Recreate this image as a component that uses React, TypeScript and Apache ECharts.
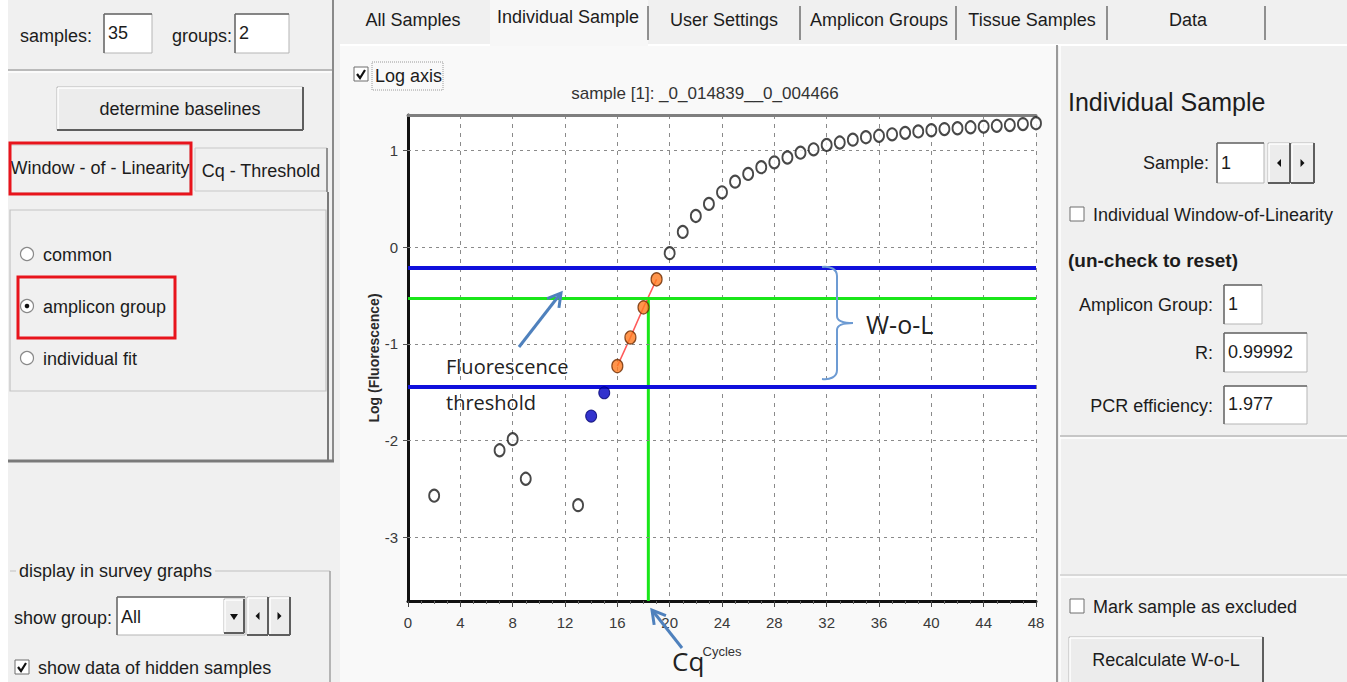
import React, { useEffect, useRef } from "react";
import * as echarts from "echarts";

// ---------- data ----------
const cyclesOpen = [2, 7, 8, 9, 13, 20, 21, 22, 23, 24, 25, 26, 27, 28, 29, 30, 31, 32, 33, 34, 35, 36, 37, 38, 39, 40, 41, 42, 43, 44, 45, 46, 47, 48];
const logOpen = [-2.57, -2.1, -1.985, -2.395, -2.668, -0.06, 0.16, 0.325, 0.45, 0.57, 0.68, 0.76, 0.83, 0.88, 0.93, 0.98, 1.015, 1.06, 1.085, 1.115, 1.14, 1.155, 1.17, 1.185, 1.2, 1.212, 1.224, 1.233, 1.243, 1.25, 1.258, 1.266, 1.276, 1.285];
const cyclesBaseline = [14, 15];
const logBaseline = [-1.746, -1.505];
const cyclesWol = [16, 17, 18, 19];
const logWol = [-1.229, -0.932, -0.621, -0.331];
const yTickValues = [-3, -2, -1, 0, 1];
const wolUpper = -0.207;
const wolLower = -1.443;
const thresholdLog = -0.528;
const cqCycle = 18.37;
const yMin = -3.66;
const yMax = 1.37;
const xMin = 0;
const xMax = 48;
const xStep = 4;
const tabLabels = ["All Samples", "Individual Sample", "User Settings", "Amplicon Groups", "Tissue Samples", "Data"];
const tabCenters = [413, 568, 724, 879, 1032, 1188];

const zip = (a: number[], b: number[]) => a.map((v, i) => [v, b[i]]);

const FONT = '"Liberation Sans", Arial, sans-serif';
const ANNO = '"Open Sans", "Noto Sans", sans-serif';

const bracePath =
  "M0,1 C8,0 15,3 15,10 L15,50 C15,55 20,57 31,57 C20,57 15,59 15,64 L15,104 C15,111 8,114 0,113";
echarts.graphic.registerShape("brace", echarts.graphic.extendPath(bracePath, {}) as any);

// ---------- graphic helpers ----------
function txt(x: number, y: number, text: string, size = 18, o: any = {}) {
  return {
    type: "text",
    x,
    y,
    z: o.z ?? 10,
    style: {
      text,
      fill: o.fill ?? "#1c1c1c",
      fontSize: size,
      fontFamily: o.family ?? FONT,
      fontWeight: o.weight ?? "normal",
      textAlign: o.align ?? "left",
      verticalAlign: "middle",
      backgroundColor: o.bg,
      padding: o.bg ? [0, 3] : 0,
    },
  };
}
function rect(x: number, y: number, w: number, h: number, style: any, z = 10) {
  return { type: "rect", z, shape: { x, y, width: w, height: h }, style };
}
function ln(x1: number, y1: number, x2: number, y2: number, stroke: string, lineWidth = 1, z = 10) {
  return { type: "line", z, shape: { x1, y1, x2, y2 }, style: { stroke, lineWidth } };
}
function sunken(x: number, y: number, w: number, h: number) {
  return [
    rect(x, y, w, h, { fill: "#ffffff", stroke: "#b5b5b5", lineWidth: 1 }),
    ln(x, y, x + w, y, "#6a6a6a", 1.5, 11),
    ln(x, y, x, y + h, "#6a6a6a", 1.5, 11),
  ];
}
function raised(x: number, y: number, w: number, h: number) {
  return [
    rect(x, y, w, h, { fill: "#ececec", stroke: "#b9b9b9", lineWidth: 1 }),
    ln(x + 1, y + 1, x + w - 1, y + 1, "#ffffff", 1.5, 11),
    ln(x + 1, y + 1, x + 1, y + h - 1, "#ffffff", 1.5, 11),
    ln(x, y + h, x + w, y + h, "#5e5e5e", 2, 11),
    ln(x + w, y, x + w, y + h, "#5e5e5e", 2, 11),
  ];
}
function checkbox(x: number, y: number, checked: boolean) {
  const els: any[] = [rect(x, y, 14, 14, { fill: "#ffffff", stroke: "#6e6e6e", lineWidth: 1 })];
  if (checked)
    els.push({
      type: "polyline",
      z: 11,
      shape: { points: [[x + 3, y + 7], [x + 6, y + 11], [x + 11, y + 3]] },
      style: { stroke: "#111", lineWidth: 2.2, fill: "none" },
    });
  return els;
}
function radio(cx: number, cy: number, sel: boolean) {
  const els: any[] = [{ type: "circle", z: 10, shape: { cx, cy, r: 6.5 }, style: { fill: "#fff", stroke: "#8a8a8a", lineWidth: 1.2 } }];
  if (sel) els.push({ type: "circle", z: 11, shape: { cx, cy, r: 2.3 }, style: { fill: "#111" } });
  return els;
}
function arrowBtn(x: number, y: number, w: number, h: number, dir: number) {
  const cx = x + w / 2;
  const cy = y + h / 2;
  return [
    ...raised(x, y, w, h),
    {
      type: "polygon",
      z: 12,
      shape: { points: dir < 0 ? [[cx + 2, cy - 4], [cx + 2, cy + 4], [cx - 2, cy]] : [[cx - 2, cy - 4], [cx - 2, cy + 4], [cx + 2, cy]] },
      style: { fill: "#111" },
    },
  ];
}
function arrow(x1: number, y1: number, x2: number, y2: number, color: string) {
  const dx = x2 - x1;
  const dy = y2 - y1;
  const L = Math.sqrt(dx * dx + dy * dy);
  const ux = dx / L;
  const uy = dy / L;
  const hl = 15;
  const a = Math.PI / 6;
  const p1 = [x2 - hl * (ux * Math.cos(a) - uy * Math.sin(a)), y2 - hl * (uy * Math.cos(a) + ux * Math.sin(a))];
  const p2 = [x2 - hl * (ux * Math.cos(a) + uy * Math.sin(a)), y2 - hl * (uy * Math.cos(a) - ux * Math.sin(a))];
  return [
    ln(x1, y1, x2 - ux * 1, y2 - uy * 1, color, 3, 100),
    { type: "polyline", z: 100, shape: { points: [p1, [x2, y2], p2] }, style: { stroke: color, lineWidth: 3, fill: "none", lineJoin: "miter" } },
  ];
}

function buildGraphics() {
  const g: any[] = [];
  // backgrounds
  g.push(rect(0, 0, 8, 682, { fill: "#ffffff" }, -10));
  g.push(rect(340, 45, 717, 637, { fill: "#f9f9f9" }, -10));
  g.push(rect(490, 0, 158, 46, { fill: "#f7f7f7" }, -10));
  // tab bar
  g.push(ln(340, 45, 490, 45, "#ffffff", 2, 5));
  g.push(ln(648, 45, 1347, 45, "#ffffff", 2, 5));
  [648, 800, 956, 1107, 1265].forEach((x) => g.push(ln(x, 6, x, 40, "#6f6f6f", 1.5)));
  tabLabels.forEach((t, i) => g.push(txt(tabCenters[i], i === 1 ? 17 : 20, t, 18, { align: "center" })));

  // ---------- left panel ----------
  g.push(txt(20, 36, "samples:"));
  g.push(...sunken(104, 14, 48, 39));
  g.push(txt(108, 33, "35"));
  g.push(txt(172, 36, "groups:"));
  g.push(...sunken(235, 14, 54, 39));
  g.push(txt(239, 33, "2"));
  g.push(ln(8, 70, 333, 70, "#a8a8a8", 1.5));
  g.push(ln(8, 72, 333, 72, "#ffffff", 1.5));
  g.push(...raised(57, 87, 246, 43));
  g.push(txt(180, 109, "determine baselines", 18, { align: "center" }));
  // tabs
  g.push(rect(10, 145, 180, 48, { fill: "#f0f0f0", stroke: "#c8c8c8", lineWidth: 1 }));
  g.push(txt(100, 168, "Window - of - Linearity", 18, { align: "center" }));
  g.push(rect(10, 143, 181, 51, { fill: "none", stroke: "#e8141c", lineWidth: 3 }, 20));
  g.push(rect(195, 148, 132, 43, { fill: "#f0f0f0", stroke: "#c8c8c8", lineWidth: 1 }));
  g.push(ln(327, 148, 327, 192, "#7a7a7a", 1.5));
  g.push(txt(261, 171, "Cq - Threshold", 18, { align: "center" }));
  g.push(ln(328, 192, 328, 460, "#7a7a7a", 2));
  g.push(rect(10, 210, 316, 181, { fill: "none", stroke: "#c4c4c4", lineWidth: 1.2 }));
  g.push(...radio(27, 254, false));
  g.push(txt(43, 255, "common"));
  g.push(...radio(27, 306, true));
  g.push(txt(43, 307, "amplicon group"));
  g.push(rect(18, 277, 157, 61, { fill: "none", stroke: "#e8141c", lineWidth: 3 }, 20));
  g.push(...radio(27, 358, false));
  g.push(txt(43, 359, "individual fit"));
  g.push(ln(333, 0, 333, 462, "#8a8a8a", 2));
  g.push(ln(8, 461, 334, 461, "#7a7a7a", 3));
  // survey group box
  g.push(ln(10, 571, 330, 571, "#c0c0c0", 1.2));
  g.push(ln(330, 571, 330, 682, "#a0a0a0", 1.5));
  g.push(txt(16, 571, "display in survey graphs", 18, { bg: "#f0f0f0" }));
  g.push(txt(14, 618, "show group:"));
  g.push(...sunken(117, 597, 128, 38));
  g.push(txt(121, 617, "All"));
  g.push(...raised(224, 599, 20, 34));
  g.push({ type: "polygon", z: 12, shape: { points: [[230, 614], [238, 614], [234, 620]] }, style: { fill: "#111" } });
  g.push(...arrowBtn(247, 597, 21, 38, -1));
  g.push(...arrowBtn(269, 597, 21, 38, 1));
  g.push(...checkbox(15, 660, true));
  g.push(txt(38, 668, "show data of hidden samples"));

  // ---------- chart area extras ----------
  g.push(...checkbox(354, 67, true));
  g.push(rect(372, 62, 71, 28, { fill: "none", stroke: "#9a9a9a", lineWidth: 1, lineDash: [1, 1] }));
  g.push(txt(375, 76, "Log axis", 18));

  // ---------- right panel ----------
  g.push(ln(1057, 45, 1057, 682, "#9a9a9a", 2));
  g.push(ln(1060, 45, 1060, 682, "#ffffff", 1.5));
  g.push(txt(1068, 102, "Individual Sample", 25));
  g.push(txt(1209, 163, "Sample:", 18, { align: "right" }));
  g.push(...sunken(1217, 143, 47, 40));
  g.push(txt(1221, 163, "1"));
  g.push(...arrowBtn(1268, 143, 22, 40, -1));
  g.push(...arrowBtn(1291, 143, 23, 40, 1));
  g.push(...checkbox(1070, 207, false));
  g.push(txt(1093, 215, "Individual Window-of-Linearity"));
  g.push(txt(1068, 260, "(un-check to reset)", 19, { weight: "bold" }));
  g.push(txt(1213, 305, "Amplicon Group:", 18, { align: "right" }));
  g.push(...sunken(1224, 285, 38, 39));
  g.push(txt(1228, 304, "1"));
  g.push(txt(1213, 353, "R:", 18, { align: "right" }));
  g.push(...sunken(1224, 333, 83, 39));
  g.push(txt(1228, 352, "0.99992"));
  g.push(txt(1213, 406, "PCR efficiency:", 18, { align: "right" }));
  g.push(...sunken(1224, 386, 83, 38));
  g.push(txt(1228, 404, "1.977"));
  g.push(ln(1060, 436, 1347, 436, "#b8b8b8", 1.5));
  g.push(ln(1060, 438, 1347, 438, "#ffffff", 1.5));
  g.push(ln(1060, 575, 1347, 575, "#d0d0d0", 1.5));
  g.push(ln(1060, 577, 1347, 577, "#ffffff", 1.5));
  g.push(...checkbox(1070, 599, false));
  g.push(txt(1093, 607, "Mark sample as excluded"));
  g.push(...raised(1069, 637, 194, 46));
  g.push(txt(1166, 660, "Recalculate W-o-L", 18, { align: "center" }));

  // ---------- annotations ----------
  const blue = "#4f81bd";
  g.push(...arrow(519, 347, 561, 293, blue));
  g.push(...arrow(682, 648, 652, 610, blue));
  g.push(txt(446, 366, "Fluorescence", 20, { family: ANNO, fill: "#222", z: 100 }));
  g.push(txt(446, 402, "threshold", 20, { family: ANNO, fill: "#222", z: 100 }));
  g.push({ type: "brace", z: 100, x: 822, y: 266, style: { stroke: "#6d9bd3", lineWidth: 2, fill: "none" } });
  g.push(txt(866, 324, "W-o-L", 25, { family: ANNO, fill: "#222", z: 100 }));
  g.push(txt(672, 661, "Cq", 26, { family: ANNO, fill: "#222", z: 100 }));
  return g;
}

export default function App() {
  const ref = useRef<HTMLDivElement>(null);
  useEffect(() => {
    if (!ref.current) return;
    const chart = echarts.init(ref.current, null, { renderer: "svg" });
    const axisFont = { color: "#3a3a3a", fontSize: 15, fontFamily: FONT };
    chart.setOption({
      animation: false,
      backgroundColor: "#f0f0f0",
      title: {
        text: "sample [1]: _0_014839__0_004466",
        left: 700,
        top: 80,
        textAlign: "center",
        textStyle: { color: "#333", fontSize: 17, fontWeight: "normal", fontFamily: FONT },
      },
      grid: { left: 408, right: 311, top: 115, bottom: 81, show: true, backgroundColor: "#ffffff", borderWidth: 0 },
      xAxis: [
        {
          type: "value",
          min: xMin,
          max: xMax,
          interval: xStep,
          position: "bottom",
          name: "Cycles",
          nameLocation: "middle",
          nameGap: 44,
          nameTextStyle: { color: "#333", fontSize: 13, fontFamily: FONT },
          axisLine: { onZero: false, lineStyle: { color: "#111", width: 3 } },
          axisTick: { show: true, length: 6, lineStyle: { color: "#444" } },
          minorTick: { show: true, splitNumber: 4, length: 3, lineStyle: { color: "#666" } },
          axisLabel: { ...axisFont, margin: 14 },
          splitLine: { show: true, lineStyle: { color: "#8a8a8a", type: [4, 5], width: 1 } },
        },
        {
          type: "value",
          min: xMin,
          max: xMax,
          position: "top",
          axisLine: { onZero: false, lineStyle: { color: "#7f7f7f", width: 3 } },
          axisTick: { show: false },
          axisLabel: { show: false },
          splitLine: { show: false },
        },
      ],
      yAxis: {
        type: "value",
        min: yMin,
        max: yMax,
        name: "Log (Fluorescence)",
        nameLocation: "middle",
        nameGap: 25,
        nameTextStyle: { color: "#2a2a2a", fontSize: 14, fontWeight: "bold", fontFamily: FONT },
        axisLine: { show: true, onZero: false, lineStyle: { color: "#111", width: 3 } },
        axisTick: { show: true, customValues: yTickValues, length: 5, lineStyle: { color: "#555" } },
        axisLabel: { ...axisFont, customValues: yTickValues, margin: 10 },
        splitLine: { show: false },
      },
      graphic: { elements: buildGraphics() },
      series: [
        {
          type: "line",
          data: [],
          silent: true,
          z: 1,
          markLine: {
            silent: true,
            symbol: "none",
            label: { show: false },
            lineStyle: { color: "#8a8a8a", type: [3, 4], width: 1.2 },
            data: yTickValues.map((v) => ({ yAxis: v })),
          },
        },
        {
          type: "line",
          data: [],
          silent: true,
          z: 3,
          markLine: {
            silent: true,
            symbol: "none",
            label: { show: false },
            data: [
              { yAxis: wolUpper, lineStyle: { color: "#1010dc", width: 4, type: "solid" } },
              { yAxis: wolLower, lineStyle: { color: "#1010dc", width: 4, type: "solid" } },
              { yAxis: thresholdLog, lineStyle: { color: "#19e619", width: 3, type: "solid" } },
            ],
          },
        },
        {
          type: "line",
          data: [[cqCycle, thresholdLog], [cqCycle, yMin]],
          symbol: "none",
          silent: true,
          z: 3,
          lineStyle: { color: "#19e619", width: 3 },
        },
        {
          type: "line",
          data: zip(cyclesWol, logWol),
          symbol: "none",
          silent: true,
          z: 4,
          lineStyle: { color: "#ff5a5a", width: 1.5 },
        },
        {
          type: "scatter",
          data: zip(cyclesOpen, logOpen),
          symbol: "circle",
          symbolSize: [10, 12],
          z: 5,
          itemStyle: { color: "#ffffff", borderColor: "#1a1a1a", borderWidth: 2 },
        },
        {
          type: "scatter",
          data: zip(cyclesBaseline, logBaseline),
          symbol: "circle",
          symbolSize: [11, 12],
          z: 5,
          itemStyle: { color: "#0000c0", borderColor: "#000070", borderWidth: 1 },
        },
        {
          type: "scatter",
          data: zip(cyclesWol, logWol),
          symbol: "circle",
          symbolSize: [11, 13],
          z: 6,
          itemStyle: { color: "#ff7a1f", borderColor: "#6b2a00", borderWidth: 1.3 },
        },
      ],
    });
    return () => chart.dispose();
  }, []);
  return <div ref={ref} style={{ position: "fixed", left: 0, top: 0, width: 1347, height: 682 }} />;
}
